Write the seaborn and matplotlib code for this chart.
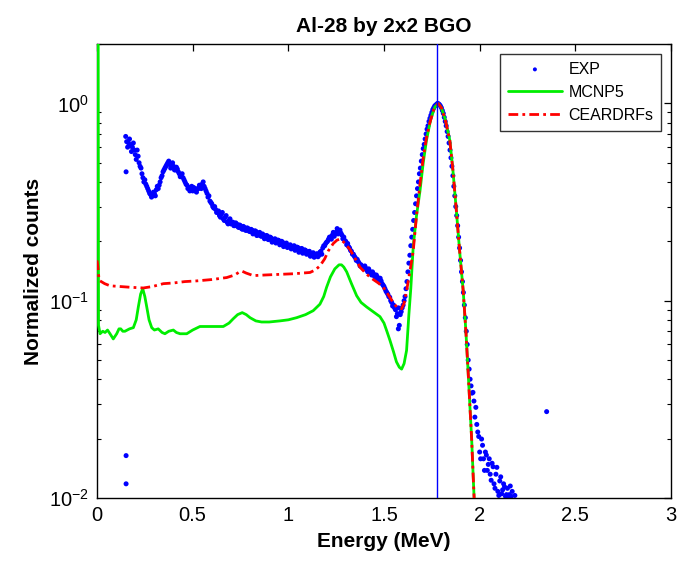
import matplotlib
matplotlib.use("Agg")
import matplotlib.pyplot as plt
import numpy as np
import pandas as pd
import seaborn as sns

# ---------------- data ----------------
exp_energy = [
    0.15, 0.16, 0.17, 0.18, 0.19,
    0.20, 0.21, 0.22, 0.23, 0.24, 0.25, 0.26, 0.27, 0.28, 0.29,
    0.30, 0.31, 0.32, 0.33, 0.34, 0.35, 0.36, 0.37, 0.38, 0.39,
    0.40, 0.41, 0.42, 0.43, 0.44, 0.45, 0.46, 0.47, 0.48, 0.49,
    0.50, 0.51, 0.52, 0.53, 0.54, 0.55, 0.56, 0.57, 0.58, 0.59,
    0.60, 0.61, 0.62, 0.63, 0.64, 0.65, 0.66, 0.67, 0.68, 0.69,
    0.70, 0.71, 0.72, 0.73, 0.74, 0.75, 0.76, 0.77, 0.78, 0.79,
    0.80, 0.81, 0.82, 0.83, 0.84, 0.85, 0.86, 0.87, 0.88, 0.89,
    0.90, 0.91, 0.92, 0.93, 0.94, 0.95, 0.96, 0.97, 0.98, 0.99,
    1.00, 1.01, 1.02, 1.03, 1.04, 1.05, 1.06, 1.07, 1.08, 1.09,
    1.10, 1.11, 1.12, 1.13, 1.14, 1.15, 1.16, 1.17, 1.18, 1.19,
    1.20, 1.21, 1.22, 1.23, 1.24, 1.25, 1.26, 1.27, 1.28, 1.29,
    1.30, 1.31, 1.32, 1.33, 1.34, 1.35, 1.36, 1.37, 1.38, 1.39,
    1.40, 1.41, 1.42, 1.43, 1.44, 1.45, 1.46, 1.47, 1.48, 1.49,
    1.50, 1.51, 1.52, 1.53, 1.54, 1.55, 1.56, 1.57, 1.58, 1.59,
    1.60, 1.61, 1.62, 1.63, 1.64, 1.65, 1.66, 1.67, 1.68, 1.69,
    1.70, 1.71, 1.72, 1.73, 1.74, 1.75, 1.76, 1.77, 1.78, 1.79,
    1.80, 1.81, 1.82, 1.83, 1.84, 1.85, 1.86, 1.87, 1.88, 1.89,
    1.90, 1.91, 1.92, 1.93, 1.94, 1.95, 1.96, 1.97, 1.98, 1.99,
    2.00, 2.01, 2.02, 2.03, 2.04, 2.05, 2.06, 2.07, 2.08, 2.09,
    2.10, 2.11, 2.12, 2.13, 2.14, 2.15, 2.16, 2.17,
]
exp_counts = [
    0.68, 0.60, 0.66, 0.57, 0.63,
    0.55, 0.58, 0.50, 0.47, 0.42, 0.41, 0.38, 0.36, 0.345, 0.34,
    0.35, 0.365, 0.37, 0.40, 0.43, 0.46, 0.48, 0.50, 0.49, 0.485,
    0.48, 0.46, 0.465, 0.44, 0.43, 0.42, 0.40, 0.385, 0.375, 0.37,
    0.36, 0.37, 0.355, 0.37, 0.38, 0.39, 0.38, 0.36, 0.335, 0.32,
    0.31, 0.295, 0.29, 0.28, 0.27, 0.275, 0.26, 0.265, 0.25, 0.255,
    0.245, 0.25, 0.24, 0.245, 0.235, 0.24, 0.23, 0.235, 0.227, 0.232,
    0.224, 0.228, 0.22, 0.225, 0.215, 0.222, 0.212, 0.215, 0.208, 0.213,
    0.205, 0.208, 0.20, 0.206, 0.198, 0.202, 0.195, 0.198, 0.19, 0.196,
    0.188, 0.192, 0.185, 0.19, 0.182, 0.186, 0.18, 0.184, 0.176, 0.18,
    0.173, 0.178, 0.17, 0.175, 0.168, 0.173, 0.17, 0.178, 0.185, 0.19,
    0.198, 0.205, 0.21, 0.215, 0.212, 0.222, 0.218, 0.228, 0.215, 0.21,
    0.2, 0.195, 0.185, 0.178, 0.172, 0.165, 0.162, 0.155, 0.152, 0.148,
    0.15, 0.143, 0.145, 0.138, 0.14, 0.133, 0.135, 0.128, 0.13, 0.122,
    0.118, 0.112, 0.108, 0.104, 0.098, 0.095, 0.09, 0.086, 0.075, 0.088,
    0.095, 0.105, 0.125, 0.155, 0.19, 0.23, 0.28, 0.34, 0.40, 0.47,
    0.55, 0.62, 0.70, 0.77, 0.84, 0.90, 0.95, 0.98, 1.0, 0.985,
    0.95, 0.89, 0.81, 0.72, 0.63, 0.53, 0.43, 0.34, 0.27, 0.21,
    0.16, 0.125, 0.095, 0.07, 0.05, 0.04, 0.034, 0.031, 0.0288, 0.0216,
    0.0171, 0.0199, 0.0158, 0.0171, 0.0138, 0.0158, 0.0123, 0.0144, 0.0112, 0.0143,
    0.0103, 0.0128, 0.0110, 0.0114, 0.0104, 0.0102, 0.0115, 0.0108,
]
# the in-between channels of the same measured spectrum
exp_energy_b = [
    0.155, 0.165, 0.175, 0.185, 0.195,
    0.205, 0.215, 0.225, 0.235, 0.245, 0.255, 0.265, 0.275, 0.285, 0.295,
    0.305, 0.315, 0.325, 0.335, 0.345, 0.355, 0.365, 0.375, 0.385, 0.395,
    0.405, 0.415, 0.425, 0.435, 0.445, 0.455, 0.465, 0.475, 0.485, 0.495,
    0.505, 0.515, 0.525, 0.535, 0.545, 0.555, 0.565, 0.575, 0.585, 0.595,
    0.605, 0.615, 0.625, 0.635, 0.645, 0.655, 0.665, 0.675, 0.685, 0.695,
    0.705, 0.715, 0.725, 0.735, 0.745, 0.755, 0.765, 0.775, 0.785, 0.795,
    0.805, 0.815, 0.825, 0.835, 0.845, 0.855, 0.865, 0.875, 0.885, 0.895,
    0.905, 0.915, 0.925, 0.935, 0.945, 0.955, 0.965, 0.975, 0.985, 0.995,
    1.005, 1.015, 1.025, 1.035, 1.045, 1.055, 1.065, 1.075, 1.085, 1.095,
    1.105, 1.115, 1.125, 1.135, 1.145, 1.155, 1.165, 1.175, 1.185, 1.195,
    1.205, 1.215, 1.225, 1.235, 1.245, 1.255, 1.265, 1.275, 1.285, 1.295,
    1.305, 1.315, 1.325, 1.335, 1.345, 1.355, 1.365, 1.375, 1.385, 1.395,
    1.405, 1.415, 1.425, 1.435, 1.445, 1.455, 1.465, 1.475, 1.485, 1.495,
    1.505, 1.515, 1.525, 1.535, 1.545, 1.555, 1.565, 1.575, 1.585, 1.595,
    1.605, 1.615, 1.625, 1.635, 1.645, 1.655, 1.665, 1.675, 1.685, 1.695,
    1.705, 1.715, 1.725, 1.735, 1.745, 1.755, 1.765, 1.775, 1.785, 1.795,
    1.805, 1.815, 1.825, 1.835, 1.845, 1.855, 1.865, 1.875, 1.885, 1.895,
    1.905, 1.915, 1.925, 1.935, 1.945, 1.955, 1.965, 1.975, 1.985, 1.995,
    2.005, 2.015, 2.025, 2.035, 2.045, 2.055, 2.065, 2.075, 2.085, 2.095,
    2.105, 2.115, 2.125, 2.135, 2.145, 2.155, 2.165,
]
exp_counts_b = [
    0.64, 0.63, 0.61, 0.60, 0.58,
    0.52, 0.54, 0.48, 0.44, 0.40, 0.39, 0.37, 0.35, 0.335, 0.355,
    0.34, 0.38, 0.385, 0.42, 0.45, 0.47, 0.49, 0.51, 0.47, 0.50,
    0.46, 0.475, 0.45, 0.425, 0.44, 0.41, 0.39, 0.37, 0.36, 0.38,
    0.375, 0.36, 0.37, 0.385, 0.37, 0.40, 0.37, 0.35, 0.34, 0.315,
    0.30, 0.30, 0.28, 0.285, 0.265, 0.28, 0.255, 0.27, 0.245, 0.26,
    0.25, 0.24, 0.248, 0.238, 0.242, 0.232, 0.238, 0.228, 0.234, 0.225,
    0.23, 0.218, 0.226, 0.214, 0.22, 0.213, 0.218, 0.206, 0.214, 0.204,
    0.21, 0.198, 0.204, 0.196, 0.203, 0.192, 0.2, 0.188, 0.194, 0.186,
    0.19, 0.183, 0.188, 0.18, 0.187, 0.176, 0.183, 0.174, 0.181, 0.172,
    0.177, 0.168, 0.174, 0.166, 0.172, 0.167, 0.176, 0.172, 0.19, 0.195,
    0.2, 0.21, 0.205, 0.222, 0.218, 0.232, 0.225, 0.22, 0.206, 0.202,
    0.192, 0.188, 0.18, 0.172, 0.168, 0.16, 0.158, 0.15, 0.148, 0.145,
    0.146, 0.14, 0.141, 0.135, 0.137, 0.13, 0.132, 0.125, 0.126, 0.12,
    0.115, 0.11, 0.105, 0.1, 0.094, 0.092, 0.083, 0.092, 0.085, 0.092,
    0.1, 0.115, 0.14, 0.17, 0.21, 0.255, 0.31, 0.37, 0.44, 0.51,
    0.59, 0.66, 0.74, 0.81, 0.87, 0.93, 0.97, 0.99, 0.995, 0.97,
    0.92, 0.85, 0.77, 0.68, 0.58, 0.48, 0.38, 0.30, 0.24, 0.185,
    0.14, 0.11, 0.082, 0.06, 0.045, 0.037, 0.0343, 0.0257, 0.0236, 0.0205,
    0.0158, 0.0185, 0.0138, 0.0165, 0.0148, 0.0132, 0.015, 0.0118, 0.0132, 0.0108,
    0.0122, 0.0105, 0.0118, 0.0102, 0.0112, 0.0104, 0.0102,
]
exp_extra_energy = [0.152, 0.152, 0.152, 1.575, 2.184, 2.35]
exp_extra_counts = [0.45, 0.0164, 0.0118, 0.072, 0.0103, 0.0274]

mcnp_energy = [
    0.0, 0.006, 0.008, 0.016, 0.03, 0.042, 0.055, 0.068, 0.085, 0.103,
    0.115, 0.124, 0.135, 0.146, 0.17, 0.19, 0.205, 0.216, 0.228, 0.239,
    0.25, 0.26, 0.272, 0.286, 0.30, 0.32, 0.34, 0.355, 0.375, 0.399,
    0.415, 0.434, 0.469, 0.50, 0.538, 0.60, 0.66, 0.69, 0.712, 0.735,
    0.759, 0.78, 0.80, 0.83, 0.86, 0.90, 0.956, 1.0, 1.043, 1.09,
    1.13, 1.165, 1.185, 1.2, 1.22, 1.243, 1.265, 1.278, 1.29, 1.305,
    1.33, 1.357, 1.38, 1.409, 1.45, 1.479, 1.50, 1.515, 1.531, 1.55,
    1.565, 1.58, 1.592, 1.605, 1.618, 1.63, 1.64, 1.653, 1.67, 1.688,
    1.705, 1.722, 1.745, 1.766, 1.783, 1.80, 1.82, 1.844, 1.86, 1.879,
    1.895, 1.914, 1.928, 1.94, 1.95, 1.958, 1.966, 1.971, 1.975,
]
mcnp_counts = [
    5.0, 3.0, 0.075, 0.068, 0.070, 0.069, 0.071, 0.068, 0.064, 0.068,
    0.072, 0.072, 0.070, 0.070, 0.072, 0.073, 0.080, 0.093, 0.108, 0.115,
    0.105, 0.093, 0.080, 0.073, 0.071, 0.072, 0.069, 0.068, 0.070, 0.071,
    0.069, 0.068, 0.068, 0.071, 0.074, 0.074, 0.074, 0.077, 0.081, 0.085,
    0.087, 0.085, 0.082, 0.079, 0.078, 0.078, 0.079, 0.080, 0.082, 0.085,
    0.089, 0.096, 0.105, 0.117, 0.132, 0.145, 0.152, 0.152, 0.148, 0.140,
    0.122, 0.106, 0.098, 0.093, 0.087, 0.083, 0.077, 0.070, 0.063, 0.055,
    0.049, 0.046, 0.045, 0.048, 0.056, 0.085, 0.115, 0.19, 0.27, 0.36,
    0.50, 0.65, 0.84, 0.96, 1.0, 0.95, 0.83, 0.65, 0.46, 0.28,
    0.18, 0.112, 0.07, 0.043, 0.028, 0.020, 0.013, 0.010, 0.005,
]

cear_energy = [
    0.0, 0.004, 0.010, 0.016, 0.04, 0.068, 0.12, 0.172, 0.242, 0.29,
    0.347, 0.40, 0.46, 0.521, 0.60, 0.678, 0.72, 0.745, 0.759, 0.78,
    0.817, 0.88, 0.956, 1.03, 1.113, 1.14, 1.165, 1.19, 1.209, 1.235,
    1.255, 1.27, 1.29, 1.322, 1.35, 1.374, 1.41, 1.444, 1.47, 1.496,
    1.52, 1.545, 1.566, 1.592, 1.605, 1.618, 1.635, 1.653, 1.67, 1.688,
    1.705, 1.722, 1.74, 1.76, 1.783, 1.80, 1.82, 1.844, 1.86, 1.879,
    1.895, 1.914, 1.928, 1.94, 1.95, 1.958, 1.966, 1.971, 1.975,
]
cear_counts = [
    0.16, 0.15, 0.13, 0.126, 0.122, 0.119, 0.118, 0.117, 0.116, 0.118,
    0.122, 0.123, 0.125, 0.126, 0.128, 0.131, 0.135, 0.14, 0.141, 0.138,
    0.134, 0.135, 0.136, 0.137, 0.139, 0.143, 0.150, 0.163, 0.179, 0.195,
    0.203, 0.205, 0.198, 0.182, 0.163, 0.148, 0.136, 0.128, 0.123, 0.117,
    0.108, 0.099, 0.093, 0.091, 0.097, 0.112, 0.14, 0.18, 0.27, 0.39,
    0.53, 0.67, 0.80, 0.93, 1.0, 0.95, 0.83, 0.65, 0.46, 0.28,
    0.18, 0.112, 0.07, 0.043, 0.028, 0.020, 0.013, 0.010, 0.005,
]

peak_energy = 1.779
x_ticks = [0, 0.5, 1, 1.5, 2, 2.5, 3]
x_tick_labels = ["0", "0.5", "1", "1.5", "2", "2.5", "3"]
y_ticks = [0.01, 0.1, 1.0]
y_tick_labels = [r"$10^{-2}$", r"$10^{-1}$", r"$10^{0}$"]

# ---------------- style ----------------
sns.set_theme(style="white")
plt.rcParams["font.family"] = ["Liberation Sans", "DejaVu Sans"]
plt.rcParams["mathtext.fontset"] = "custom"
plt.rcParams["mathtext.rm"] = "Liberation Sans"
plt.rcParams["mathtext.it"] = "Liberation Sans"
plt.rcParams["mathtext.default"] = "regular"
plt.rcParams["text.color"] = "black"
plt.rcParams["axes.labelcolor"] = "black"
plt.rcParams["xtick.color"] = "black"
plt.rcParams["ytick.color"] = "black"

fig = plt.figure(figsize=(6.91, 5.62), dpi=100)
ax = fig.add_axes([97 / 691, 1 - 498 / 562, (671 - 97) / 691, (498 - 44) / 562])

exp_df = pd.DataFrame({
    "Energy": exp_energy + exp_energy_b + exp_extra_energy,
    "Counts": exp_counts + exp_counts_b + exp_extra_counts,
})
mcnp_df = pd.DataFrame({"Energy": mcnp_energy, "Counts": mcnp_counts})
cear_df = pd.DataFrame({"Energy": cear_energy, "Counts": cear_counts})

sns.scatterplot(data=exp_df, x="Energy", y="Counts", ax=ax, color="#0000ff",
                s=13, marker="o", linewidth=0, edgecolor="none", label="EXP", zorder=2)
sns.lineplot(data=mcnp_df, x="Energy", y="Counts", ax=ax, color="#00ee00",
             lw=2.0, sort=False, estimator=None, label="MCNP5", zorder=3)
sns.lineplot(data=cear_df, x="Energy", y="Counts", ax=ax, color="#ff0000",
             lw=2.0, sort=False, estimator=None, label="CEARDRFs", zorder=4,
             linestyle=(0, (3.5, 1.5, 1.0, 1.5)))
ax.axvline(peak_energy, color="#0000ff", lw=1.0, zorder=5)

ax.set_yscale("log")
ax.set_xlim(0, 3)
ax.set_ylim(0.01, 2.0)
ax.set_xticks(x_ticks)
ax.set_xticklabels(x_tick_labels)
ax.set_yticks(y_ticks)
ax.set_yticklabels(y_tick_labels)
ax.yaxis.set_minor_locator(matplotlib.ticker.LogLocator(base=10, subs=np.arange(2, 10)))
ax.yaxis.set_minor_formatter(matplotlib.ticker.NullFormatter())

ax.tick_params(axis="both", which="major", direction="in", length=5, width=0.9,
               labelsize=14.5, colors="black", top=True, right=True, pad=6)
ax.tick_params(axis="y", which="minor", direction="in", length=3, width=0.8,
               left=True, right=True)
ax.tick_params(axis="x", which="minor", bottom=False, top=False)
for sp in ax.spines.values():
    sp.set_color("black")
    sp.set_linewidth(1.0)

ax.set_xlabel("Energy (MeV)", fontsize=15, fontweight="bold", labelpad=5)
ax.set_ylabel("Normalized counts", fontsize=15, fontweight="bold", labelpad=4)
ax.set_title("Al-28 by 2x2 BGO", fontsize=15, fontweight="bold", pad=9)

leg = ax.legend(loc="upper right", fontsize=11.5, frameon=True, fancybox=False,
                edgecolor="black", handlelength=3.4, handletextpad=0.4,
                labelspacing=0.5, borderpad=0.5, borderaxespad=0.6, markerscale=0.8)
leg.get_frame().set_linewidth(1.0)

fig.savefig("out.png", dpi=100)
